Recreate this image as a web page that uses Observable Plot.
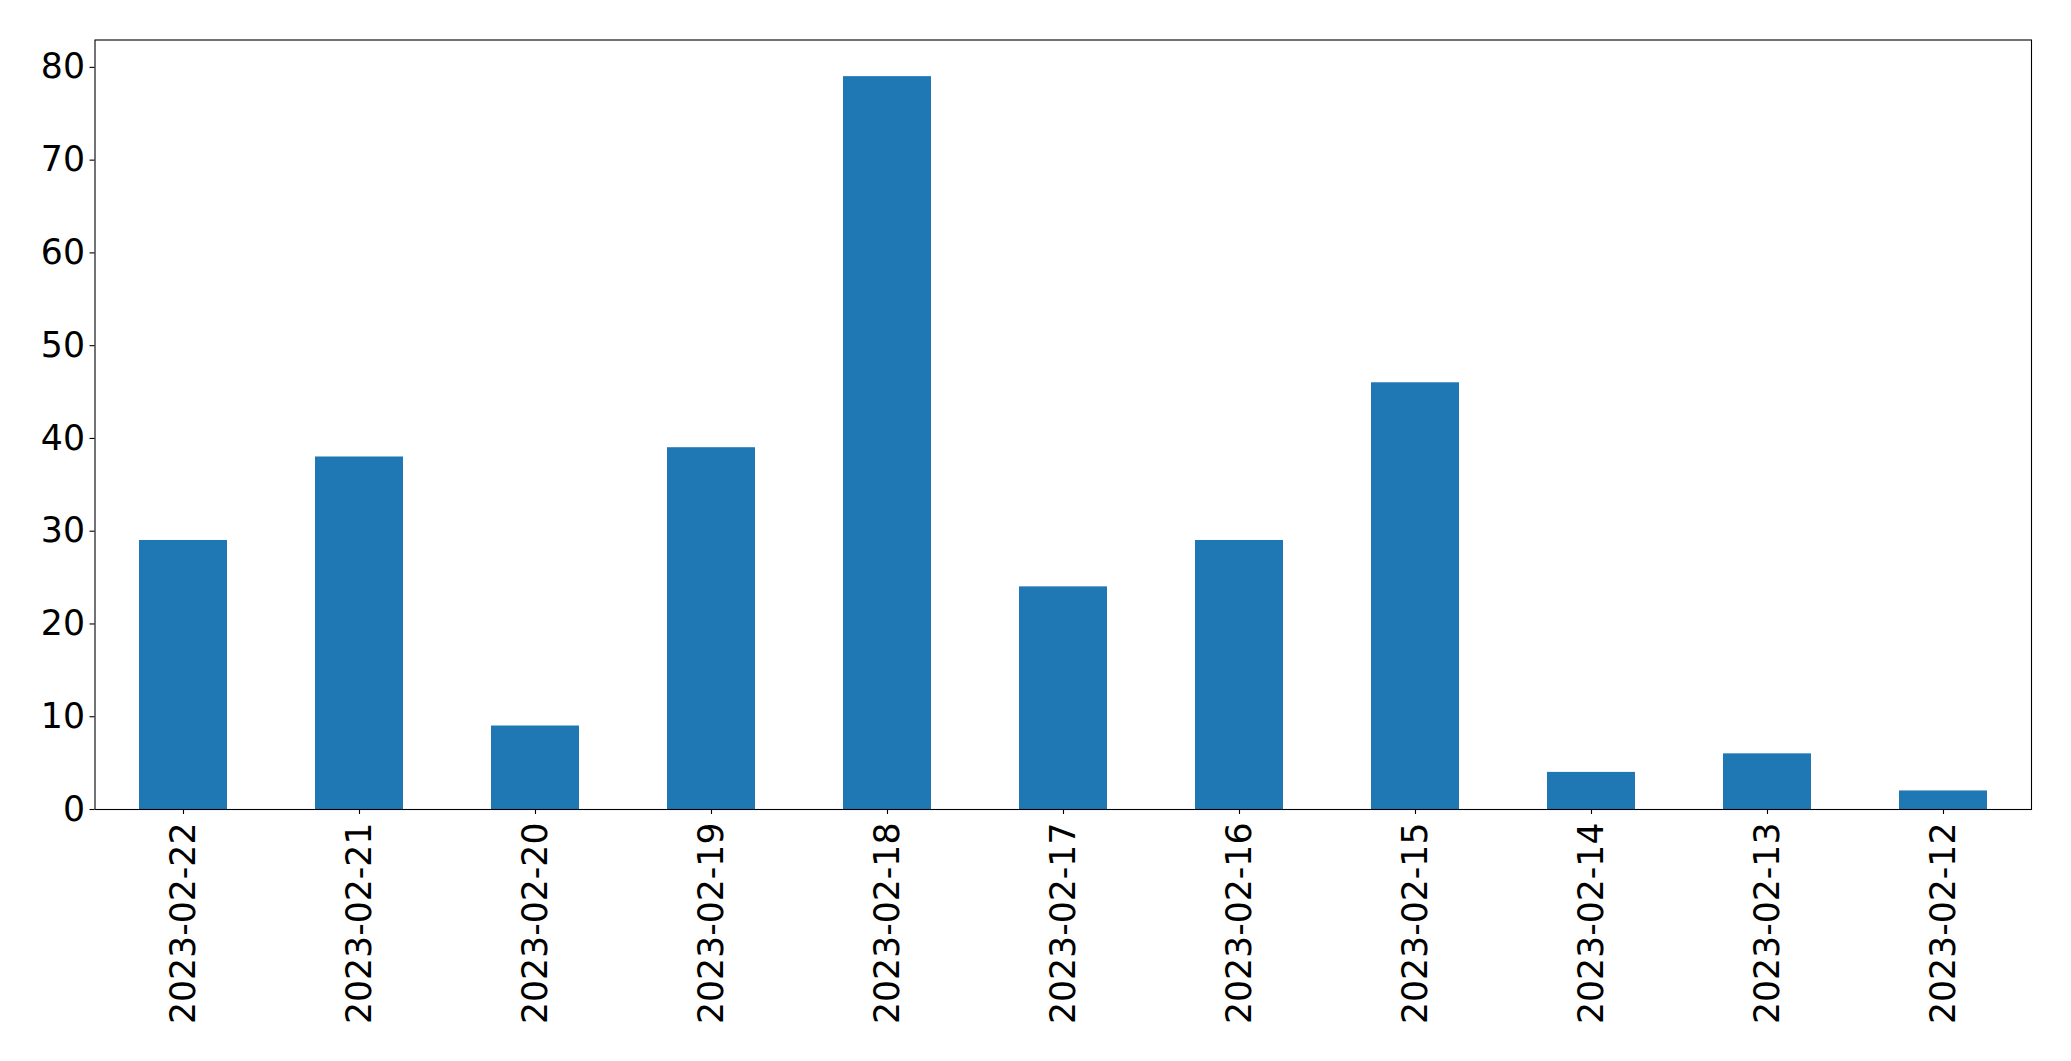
<!DOCTYPE html>
<html>
<head>
<meta charset="utf-8">
<script src="https://cdn.jsdelivr.net/npm/d3@7"></script>
<script src="https://cdn.jsdelivr.net/npm/@observablehq/plot@0.6"></script>
<style>
  html, body { margin: 0; padding: 0; background: #fff; }
  svg { display: block; }
</style>
</head>
<body>
<div id="chart"></div>
<script>
const dates = ["2023-02-22","2023-02-21","2023-02-20","2023-02-19","2023-02-18","2023-02-17","2023-02-16","2023-02-15","2023-02-14","2023-02-13","2023-02-12"];
const counts = [29, 38, 9, 39, 79, 24, 29, 46, 4, 6, 2];
const yTicks = [0, 10, 20, 30, 40, 50, 60, 70, 80];

const data = dates.map((d, i) => ({date: d, count: counts[i]}));

const chart = Plot.plot({
  width: 2071,
  height: 1061,
  marginLeft: 94.5,
  marginRight: 40,
  marginTop: 39.5,
  marginBottom: 252,
  style: {fontFamily: "DejaVu Sans", fontSize: "34.7px", color: "#000", background: "#fff"},
  x: {domain: dates, paddingInner: 0.5, paddingOuter: 0.25, label: null},
  y: {domain: [0, 82.95], label: null},
  marks: [
    Plot.barY(data, {x: "date", y: "count", fill: "#1f77b4"}),
    Plot.frame({stroke: "#000", strokeWidth: 1.1}),
    Plot.axisY({ticks: yTicks, tickSize: 5, tickPadding: 5, fontSize: 34.7, label: null, strokeWidth: 1.1}),
    Plot.axisX({tickSize: 5, tickRotate: -90, tickPadding: 8, fontSize: 34.7, label: null, strokeWidth: 1.1})
  ]
});
document.getElementById("chart").appendChild(chart);
</script>
</body>
</html>
